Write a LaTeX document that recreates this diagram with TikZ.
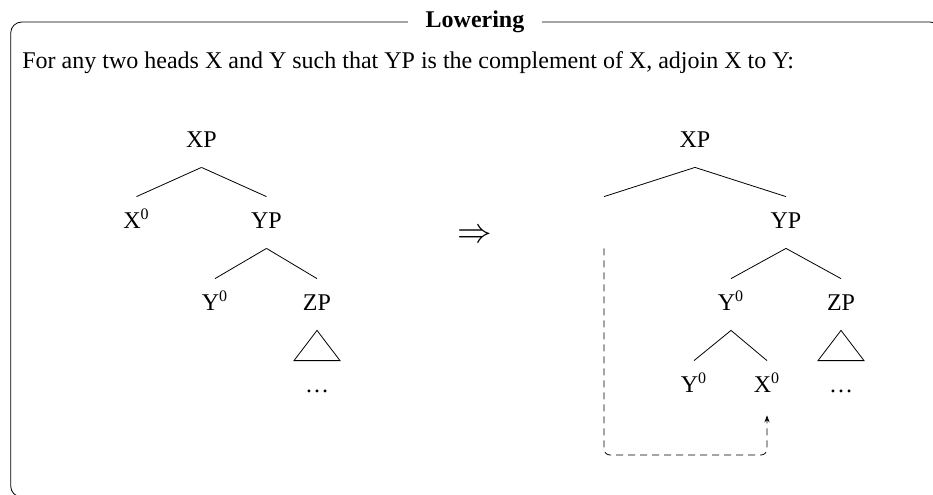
\documentclass[tikz,border=0pt]{standalone}
\usepackage{fontspec}
\setmainfont{Liberation Serif}
\usetikzlibrary{arrows.meta}

\begin{document}
\begin{tikzpicture}[x=0.5pt,y=-0.5pt,
  cat/.style={font=\fontsize{12}{14}\selectfont,anchor=base,text height=11.5pt,text depth=6pt,inner sep=4pt},
  frame/.style={draw,rounded corners=5.5pt},
  ttl/.style={fill=white,font=\fontsize{12}{14}\selectfont\bfseries,inner xsep=9pt,inner ysep=1pt},
  txt/.style={font=\fontsize{12}{14}\selectfont,anchor=base west,inner sep=0pt},
  move/.style={dash pattern=on 3.5pt off 2.5pt,rounded corners=3pt,-{Stealth[length=3.5pt,width=2.6pt]}}]
\useasboundingbox (0,0) rectangle (933,494);
\clip (0,0) rectangle (933,494);
\draw[frame] (10.7,22) rectangle (941,497);
\node[ttl] (title) at (475,22) {Lowering};
\node[txt] (rule) at (22,68) {For any two heads X and Y such that YP is the complement of X, adjoin X to Y:};
\node[cat] (lxp) at (201.5,147) {XP};
\node[cat] (lx0) at (136.5,228) {X\textsuperscript{0}};
\node[cat] (lyp) at (266.5,228) {YP};
\node[cat] (ly0) at (215,310) {Y\textsuperscript{0}};
\node[cat] (lzp) at (317,310) {ZP};
\node[cat] (ldots) at (317,392) {\dots};
\draw (lxp.south) -- (lx0.north);
\draw (lxp.south) -- (lyp.north);
\draw (lyp.south) -- (ly0.north);
\draw (lyp.south) -- (lzp.north);
\draw (lzp.south) -- ([xshift=-11.5pt]ldots.north) -- ([xshift=11.5pt]ldots.north) -- cycle;
\node[font=\fontsize{16}{18}\selectfont] (to) at (475,236) {$\Rightarrow$};
\node[cat] (rxp) at (695,147) {XP};
\node[cat] (rgap) at (604,228) {};
\node[cat] (ryp) at (786,228) {YP};
\node[cat] (ry0) at (731,310) {Y\textsuperscript{0}};
\node[cat] (rzp) at (841,310) {ZP};
\node[cat] (ry0b) at (694,392) {Y\textsuperscript{0}};
\node[cat] (rx0) at (767,392) {X\textsuperscript{0}};
\node[cat] (rdots) at (841,392) {\dots};
\draw (rxp.south) -- (rgap.north);
\draw (rxp.south) -- (ryp.north);
\draw (ryp.south) -- (ry0.north);
\draw (ryp.south) -- (rzp.north);
\draw (ry0.south) -- (ry0b.north);
\draw (ry0.south) -- (rx0.north);
\draw (rzp.south) -- ([xshift=-11.5pt]rdots.north) -- ([xshift=11.5pt]rdots.north) -- cycle;
\draw[move] (rgap.south) -- (rgap.south |- 0,455) -| ([yshift=-1.5pt]rx0.south);
\end{tikzpicture}
\end{document}
